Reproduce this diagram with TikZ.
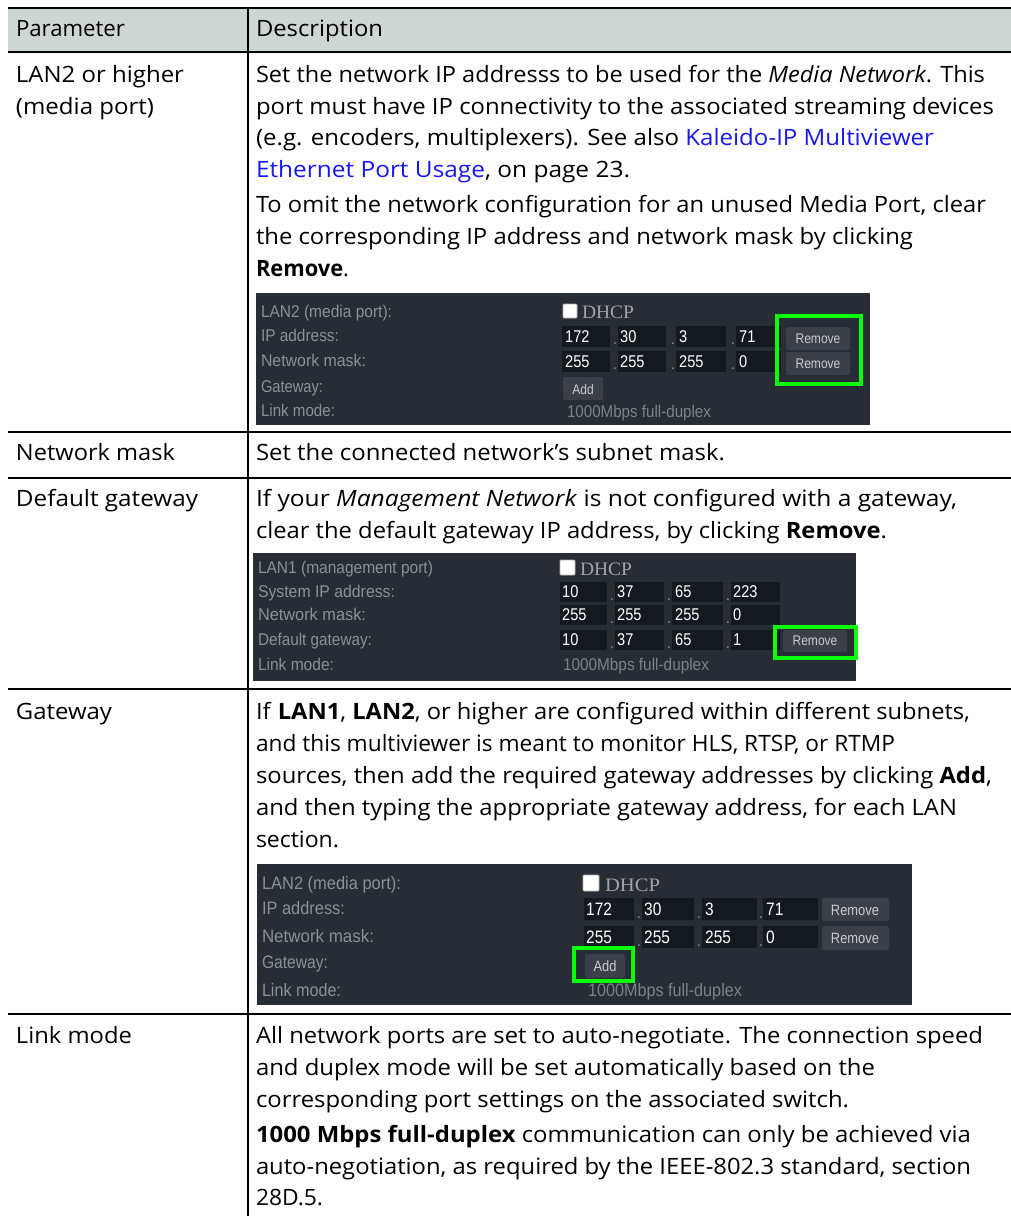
\documentclass[tikz,border=0pt]{standalone}
\usepackage{fontspec}
\usepackage{graphicx}
\setmainfont{Open Sans}
\newfontfamily\uifont{Liberation Sans}
\newfontfamily\uiserif{Liberation Serif}
\definecolor{headc}{RGB}{206,214,212}
\definecolor{linkblue}{RGB}{24,24,245}
\definecolor{scrbg}{RGB}{39,44,53}
\definecolor{fieldc}{RGB}{20,24,31}
\definecolor{btnc}{RGB}{58,63,72}
\definecolor{labc}{RGB}{140,145,152}
\definecolor{btntc}{RGB}{200,204,208}
\definecolor{dhcpc}{RGB}{160,164,170}
\definecolor{linkmc}{RGB}{125,130,137}
\definecolor{hlgreen}{RGB}{10,255,10}
\newcommand\bodyf{\fontsize{22.5}{28}\selectfont}
\newcommand\uif{\uifont\fontsize{17}{19}\selectfont}
\newcommand\uifb{\uifont\fontsize{18}{20}\selectfont}
\newcommand\dhcpf{\uiserif\fontsize{19}{20}\selectfont}
\newcommand\lnk[1]{\textcolor{linkblue}{#1}}
\newcommand\nv[1]{\scalebox{0.86}[1]{#1}}
\newlength\fitw
\newcommand\fitbox[2]{\settowidth{\fitw}{#2}\pgfmathsetmacro\fitsx{#1/\fitw}\scalebox{\fitsx}[1]{#2}}
\newcommand\fitline[6][]{%
  \node[anchor=base west,inner sep=0pt,outer sep=0pt,#1] (#2) at (#3,#4) {\fitbox{#5}{#6}};%
}
\tikzset{
  thickrule/.style={line width=2.4pt},
  thinrule/.style={line width=1.2pt},
  scr/.style={fill=scrbg},
  fld/.style={fill=fieldc},
  btn/.style={fill=btnc,rounded corners=2pt},
  hl/.style={draw=hlgreen,line width=4.5pt},
  chk/.style={fill=white,draw=gray!60,line width=0.8pt,rounded corners=1pt},
  val/.style={anchor=base west,inner sep=0pt,text=white,font=\uifont\fontsize{17}{18}\selectfont},
  valb/.style={anchor=base west,inner sep=0pt,text=white,font=\uifont\fontsize{18}{19}\selectfont},
  dotc/.style={anchor=base,inner sep=0pt,text=labc,font=\uifont\fontsize{15}{16}\selectfont},
  btntxt/.style={inner sep=0pt,text=btntc,font=\uifont\fontsize{14}{15}\selectfont},
  btntxtb/.style={inner sep=0pt,text=btntc,font=\uifont\fontsize{15}{16}\selectfont},
}
\begin{document}
\begin{tikzpicture}[x=1pt,y=-1pt]
\useasboundingbox (0,0) rectangle (1011,1216);
\fill[white] (0,0) rectangle (1011,1216);
% header
\fill[headc] (8,8) rectangle (1011,52);
\draw[thickrule] (8,8) -- (1011,8);
\draw[thickrule] (8,52) -- (1011,52);
\draw[thinrule] (248,8) -- (248,1216);
\draw[thinrule] (8,432) -- (1011,432);
\draw[thinrule] (8,478) -- (1011,478);
\draw[thinrule] (8,689) -- (1011,689);
\draw[thinrule] (8,1014) -- (1011,1014);
\fitline{hpar}{16}{36}{109}{\bodyf Parameter}
\fitline{hdesc}{256}{36}{127}{\bodyf Description}
% left column
\fitline{p1a}{16}{82}{168}{\bodyf LAN2 or higher}
\fitline{p1b}{16}{114}{138}{\bodyf (media port)}
\fitline{p2}{16}{460}{159}{\bodyf Network mask}
\fitline{p3}{16}{506}{182}{\bodyf Default gateway}
\fitline{p4}{16}{719}{96}{\bodyf Gateway}
\fitline{p5}{16}{1043}{116}{\bodyf Link mode}
% row 1 text
\fitline{d1a}{256}{82}{729}{\bodyf Set the network IP addresss to be used for the \textit{Media Network}. This}
\fitline{d1b}{256}{114}{738}{\bodyf port must have IP connectivity to the associated streaming devices}
\fitline{d1c}{256}{145}{678}{\bodyf (e.g. encoders, multiplexers). See also \lnk{Kaleido-IP Multiviewer}}
\fitline{d1d}{256}{177}{374}{\bodyf \lnk{Ethernet Port Usage}, on page 23.}
\fitline{d1e}{256}{212}{730}{\bodyf To omit the network configuration for an unused Media Port, clear}
\fitline{d1f}{256}{244}{657}{\bodyf the corresponding IP address and network mask by clicking}
\fitline{d1g}{256}{276}{93}{\bodyf \textbf{Remove}.}
% screenshot 1
\fill[scr] (256,293) rectangle (870,425);
\fitline[text=labc]{s1a}{261}{317}{131}{\uif LAN2 (media port):}
\fitline[text=labc]{s1b}{261}{341}{78}{\uif IP address:}
\fitline[text=labc]{s1c}{261}{366}{105}{\uif Network mask:}
\fitline[text=labc]{s1d}{261}{392}{62}{\uif Gateway:}
\fitline[text=labc]{s1e}{261}{416}{74}{\uif Link mode:}
\filldraw[chk] (563,304) rectangle (577,318);
\fitline[text=dhcpc]{s1dh}{582}{318}{52}{\dhcpf DHCP}
\fill[fld] (562,326) rectangle (610,347);
\fill[fld] (618,326) rectangle (666,347);
\fill[fld] (676,326) rectangle (726,347);
\fill[fld] (736,326) rectangle (781,347);
\fill[fld] (562,351) rectangle (610,372);
\fill[fld] (618,351) rectangle (666,372);
\fill[fld] (676,351) rectangle (726,372);
\fill[fld] (736,351) rectangle (781,372);
\node[val] (s1v1) at (565,342) {\nv{172}};
\node[dotc] (s1p1) at (615,344) {.};
\node[val] (s1v2) at (620,342) {\nv{30}};
\node[dotc] (s1p2) at (673,344) {.};
\node[val] (s1v3) at (679,342) {\nv{3}};
\node[dotc] (s1p3) at (733,344) {.};
\node[val] (s1v4) at (739,342) {\nv{71}};
\node[val] (s1w1) at (565,367) {\nv{255}};
\node[dotc] (s1q1) at (615,369) {.};
\node[val] (s1w2) at (620,367) {\nv{255}};
\node[dotc] (s1q2) at (673,369) {.};
\node[val] (s1w3) at (679,367) {\nv{255}};
\node[dotc] (s1q3) at (733,369) {.};
\node[val] (s1w4) at (739,367) {\nv{0}};
\fill[btn] (786,327) rectangle (850,350);
\node[btntxt] (s1r1) at (818,339) {\nv{Remove}};
\fill[btn] (786,352) rectangle (850,375);
\node[btntxt] (s1r2) at (818,364) {\nv{Remove}};
\draw[hl] (777,316) rectangle (861,384);
\fill[btn] (563,377) rectangle (603,400);
\node[btntxt] (s1add) at (583,389) {\nv{Add}};
\fitline[text=linkmc]{s1lm}{567}{417}{144}{\uif 1000Mbps full-duplex}
% row 2
\fitline{d2}{256}{460}{469}{\bodyf Set the connected network’s subnet mask.}
% row 3
\fitline{d3a}{256}{506}{701}{\bodyf If your \textit{Management Network} is not configured with a gateway,}
\fitline{d3b}{256}{538}{631}{\bodyf clear the default gateway IP address, by clicking \textbf{Remove}.}
% screenshot 2
\fill[scr] (253,553) rectangle (856,681);
\fitline[text=labc]{s2a}{258}{573}{175}{\uif LAN1 (management port)}
\fitline[text=labc]{s2b}{258}{597}{137}{\uif System IP address:}
\fitline[text=labc]{s2c}{258}{620}{108}{\uif Network mask:}
\fitline[text=labc]{s2d}{258}{645}{114}{\uif Default gateway:}
\fitline[text=labc]{s2e}{258}{670}{76}{\uif Link mode:}
\filldraw[chk] (560,560) rectangle (575,575);
\fitline[text=dhcpc]{s2dh}{580}{575}{52}{\dhcpf DHCP}
\foreach \yy/\nm in {582/a,605/b,630/c}{
  \fill[fld] (560,\yy) rectangle (607,\yy+20);
  \fill[fld] (615,\yy) rectangle (664,\yy+20);
  \fill[fld] (672,\yy) rectangle (723,\yy+20);
  \fill[fld] (731,\yy) rectangle (780,\yy+20);
  \node[dotc] (s2p1\nm) at (612,\yy+18) {.};
  \node[dotc] (s2p2\nm) at (669,\yy+18) {.};
  \node[dotc] (s2p3\nm) at (728,\yy+18) {.};
}
\node[val] (s2v1) at (562,597) {\nv{10}};
\node[val] (s2v2) at (617,597) {\nv{37}};
\node[val] (s2v3) at (675,597) {\nv{65}};
\node[val] (s2v4) at (733,597) {\nv{223}};
\node[val] (s2w1) at (562,620) {\nv{255}};
\node[val] (s2w2) at (617,620) {\nv{255}};
\node[val] (s2w3) at (675,620) {\nv{255}};
\node[val] (s2w4) at (733,620) {\nv{0}};
\node[val] (s2x1) at (562,645) {\nv{10}};
\node[val] (s2x2) at (617,645) {\nv{37}};
\node[val] (s2x3) at (675,645) {\nv{65}};
\node[val] (s2x4) at (733,645) {\nv{1}};
\fill[btn] (783,630) rectangle (847,652);
\node[btntxt] (s2r) at (815,641) {\nv{Remove}};
\draw[hl] (775,627) rectangle (856,658);
\fitline[text=linkmc]{s2lm}{563}{670}{146}{\uif 1000Mbps full-duplex}
% row 4
\fitline{d4a}{256}{719}{714}{\bodyf If \textbf{LAN1}, \textbf{LAN2}, or higher are configured within different subnets,}
\fitline{d4b}{256}{751}{639}{\bodyf and this multiviewer is meant to monitor HLS, RTSP, or RTMP}
\fitline{d4c}{256}{783}{736}{\bodyf sources, then add the required gateway addresses by clicking \textbf{Add},}
\fitline{d4d}{256}{815}{701}{\bodyf and then typing the appropriate gateway address, for each LAN}
\fitline{d4e}{256}{847}{83}{\bodyf section.}
% screenshot 3
\fill[scr] (257,864) rectangle (912,1005);
\fitline[text=labc]{s3a}{262}{889}{139}{\uifb LAN2 (media port):}
\fitline[text=labc]{s3b}{262}{914}{83}{\uifb IP address:}
\fitline[text=labc]{s3c}{262}{942}{112}{\uifb Network mask:}
\fitline[text=labc]{s3d}{262}{968}{66}{\uifb Gateway:}
\fitline[text=labc]{s3e}{262}{996}{79}{\uifb Link mode:}
\filldraw[chk] (583,875) rectangle (599,891);
\fitline[text=dhcpc]{s3dh}{605}{891}{55}{\dhcpf DHCP}
\foreach \yy/\nm in {898/a,926/b}{
  \fill[fld] (584,\yy) rectangle (634,\yy+22);
  \fill[fld] (642,\yy) rectangle (694,\yy+22);
  \fill[fld] (702,\yy) rectangle (757,\yy+22);
  \fill[fld] (763,\yy) rectangle (818,\yy+22);
  \node[dotc] (s3p1\nm) at (639,\yy+20) {.};
  \node[dotc] (s3p2\nm) at (699,\yy+20) {.};
  \node[dotc] (s3p3\nm) at (761,\yy+20) {.};
}
\node[valb] (s3v1) at (586,915) {\nv{172}};
\node[valb] (s3v2) at (644,915) {\nv{30}};
\node[valb] (s3v3) at (705,915) {\nv{3}};
\node[valb] (s3v4) at (766,915) {\nv{71}};
\node[valb] (s3w1) at (586,943) {\nv{255}};
\node[valb] (s3w2) at (644,943) {\nv{255}};
\node[valb] (s3w3) at (705,943) {\nv{255}};
\node[valb] (s3w4) at (766,943) {\nv{0}};
\fill[btn] (822,898) rectangle (889,921);
\node[btntxtb] (s3r1) at (855,910) {\nv{Remove}};
\fill[btn] (822,926) rectangle (889,950);
\node[btntxtb] (s3r2) at (855,938) {\nv{Remove}};
\fill[btn] (585,954) rectangle (625,978);
\node[btntxtb] (s3add) at (605,966) {\nv{Add}};
\draw[hl] (574,948) rectangle (633,981);
\fitline[text=linkmc]{s3lm}{588}{996}{154}{\uifb 1000Mbps full-duplex}
% row 5
\fitline{d5a}{256}{1043}{727}{\bodyf All network ports are set to auto-negotiate. The connection speed}
\fitline{d5b}{256}{1075}{619}{\bodyf and duplex mode will be set automatically based on the}
\fitline{d5c}{256}{1107}{593}{\bodyf corresponding port settings on the associated switch.}
\fitline{d5d}{256}{1142}{715}{\bodyf \textbf{1000 Mbps full-duplex} communication can only be achieved via}
\fitline{d5e}{256}{1174}{715}{\bodyf auto-negotiation, as required by the IEEE-802.3 standard, section}
\fitline{d5f}{256}{1205}{67}{\bodyf 28D.5.}
\end{tikzpicture}
\end{document}
